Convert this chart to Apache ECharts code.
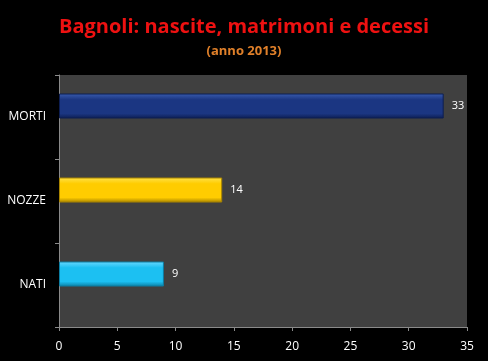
<!DOCTYPE html>
<html><head><meta charset="utf-8">
<script src="https://cdn.jsdelivr.net/npm/echarts@6/dist/echarts.min.js"></script>
<style>html,body{margin:0;padding:0;background:#000;}#c{width:488px;height:361px;}</style>
</head><body><div id="c"></div>
<script>
const categories = ['NATI', 'NOZZE', 'MORTI'];
const values = [9, 14, 33];
const xTicks = [0, 5, 10, 15, 20, 25, 30, 35];
const barColors = [
  ['#6ad8ff', '#1cc0f2', '#0c7ea3'],
  ['#ffe24a', '#ffcc00', '#a88400'],
  ['#3a5cae', '#1b3682', '#0d1e52']
];
const chart = echarts.init(document.getElementById('c'));
const font = 'Open Sans';
chart.setOption({
  backgroundColor: '#000',
  animation: false,
  title: [{
    text: 'Bagnoli: nascite, matrimoni e decessi',
    left: 'center', top: 12,
    textStyle: {color: '#ee1111', fontSize: 20, fontWeight: 'bold', fontFamily: font}
  }, {
    text: '(anno 2013)',
    left: 'center', top: 40,
    textStyle: {color: '#e0802a', fontSize: 13, fontWeight: 'bold', fontFamily: font}
  }],
  grid: {left: 59, right: 21, top: 75, bottom: 34, show: true, backgroundColor: '#404040', borderWidth: 0},
  xAxis: {
    type: 'value', min: 0, max: 35, interval: 5,
    axisLine: {show: true, lineStyle: {color: '#8a8a8a'}},
    axisTick: {show: true, length: 4, lineStyle: {color: '#8a8a8a'}},
    splitLine: {show: false},
    axisLabel: {color: '#fff', fontSize: 12, fontFamily: font, margin: 14,
      formatter: v => xTicks.includes(v) ? String(v) : ''}
  },
  yAxis: {
    type: 'category', data: categories,
    axisLine: {show: true, lineStyle: {color: '#8a8a8a'}},
    axisTick: {show: true, length: 4, lineStyle: {color: '#8a8a8a'}},
    axisLabel: {color: '#fff', fontSize: 12, fontFamily: font, margin: 13}
  },
  series: [{
    type: 'bar', barWidth: 25, barGap: '-12%',
    data: values.map((v, i) => ({
      value: v,
      itemStyle: {
        color: new echarts.graphic.LinearGradient(0, 0, 0, 1, [
          {offset: 0, color: barColors[i][0]},
          {offset: 0.25, color: barColors[i][1]},
          {offset: 0.8, color: barColors[i][1]},
          {offset: 1, color: barColors[i][2]}
        ]),
        borderColor: barColors[i][2], borderWidth: 1
      }
    })),
    label: {show: true, position: 'right', distance: 8, color: '#fff', fontSize: 11, fontFamily: font}
  }, {
    type: 'bar', barWidth: 25, data: [null, null, null]
  }]
});
</script></body></html>
